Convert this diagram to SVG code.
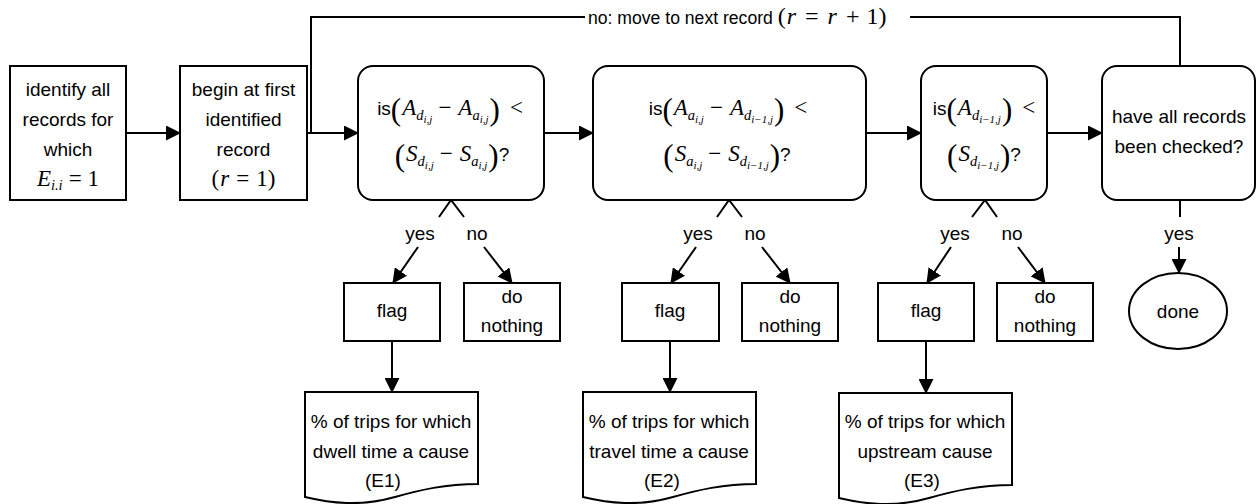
<svg xmlns="http://www.w3.org/2000/svg" width="1257" height="504" viewBox="0 0 1257 504">
<style>
.t{font-family:"Liberation Sans",Arial,sans-serif;font-size:19px;fill:#000}
.tl{font-size:17.6px}
.m{font-family:"Liberation Serif","Times New Roman",serif;font-size:23px;fill:#000}
.ml{font-family:"Liberation Serif","Times New Roman",serif;font-size:24px}
.i{font-style:italic}
.sub{font-size:14.5px}
.ss{font-size:11px}
.bp{font-size:31px;font-style:normal}
.box{fill:#fff;stroke:#000;stroke-width:2}
.ln{fill:none;stroke:#000;stroke-width:2}
.arr{fill:none;stroke:#000;stroke-width:2;marker-end:url(#ah)}
</style>
<defs>
<marker id="ah" markerUnits="userSpaceOnUse" markerWidth="15" markerHeight="15" refX="14" refY="7.5" orient="auto"><path d="M0,0 L15,7.5 L0,15 z" fill="#000"/></marker>
</defs>
<rect width="1257" height="504" fill="#fff"/>
<g id="connectors">
<line class="arr" x1="126" y1="133" x2="180" y2="133"/>
<line class="arr" x1="307" y1="133" x2="358" y2="133"/>
<line class="arr" x1="544" y1="133" x2="593" y2="133"/>
<line class="arr" x1="866" y1="133" x2="921" y2="133"/>
<line class="arr" x1="1047" y1="133" x2="1102" y2="133"/>
<polyline class="ln" points="311,133 311,17 585,17"/>
<polyline class="ln" points="910,17 1180,17 1180,66"/>
<text class="t tl" x="588" y="24">no: move to next record <tspan class="ml">(</tspan><tspan class="ml i" dx="1">r</tspan><tspan class="ml" dx="9">=</tspan><tspan class="ml i" dx="9">r</tspan><tspan class="ml" dx="9">+</tspan><tspan class="ml" dx="7">1</tspan><tspan class="ml">)</tspan></text>
<polyline class="ln" points="439,217 451,200 464,217"/>
<polyline class="ln" points="717,217 729,200 742,217"/>
<polyline class="ln" points="972,217 985,200 997,217"/>
<line class="ln" x1="1180" y1="200" x2="1180" y2="217"/>
<text class="t" x="420" y="240" text-anchor="middle">yes</text>
<text class="t" x="477" y="240" text-anchor="middle">no</text>
<text class="t" x="698" y="240" text-anchor="middle">yes</text>
<text class="t" x="755" y="240" text-anchor="middle">no</text>
<text class="t" x="955" y="240" text-anchor="middle">yes</text>
<text class="t" x="1012" y="240" text-anchor="middle">no</text>
<text class="t" x="1179" y="240" text-anchor="middle">yes</text>
<line class="arr" x1="418" y1="247" x2="393" y2="283"/>
<line class="arr" x1="484" y1="247" x2="512" y2="283"/>
<line class="arr" x1="696" y1="247" x2="671" y2="283"/>
<line class="arr" x1="762" y1="247" x2="790" y2="283"/>
<line class="arr" x1="951" y1="247" x2="927" y2="283"/>
<line class="arr" x1="1018" y1="247" x2="1045" y2="283"/>
<line class="arr" x1="1179" y1="247" x2="1179" y2="273"/>
<line class="arr" x1="392" y1="342" x2="392" y2="392"/>
<line class="arr" x1="670" y1="341" x2="670" y2="392"/>
<line class="arr" x1="926" y1="341" x2="926" y2="393"/>
</g>
<g id="n1">
<rect class="box" x="10" y="66" width="116" height="134"/>
<text class="t" x="68" y="96" text-anchor="middle">identify all</text>
<text class="t" x="68" y="126" text-anchor="middle">records for</text>
<text class="t" x="68" y="156" text-anchor="middle">which</text>
<text class="m" x="68" y="186" text-anchor="middle"><tspan class="i">E</tspan><tspan class="i sub" dy="4">i.i</tspan><tspan dy="-4" dx="6">=</tspan><tspan dx="6">1</tspan></text>
</g>
<g id="n2">
<rect class="box" x="180" y="66" width="127" height="134"/>
<text class="t" x="243.5" y="96" text-anchor="middle">begin at first</text>
<text class="t" x="243.5" y="126" text-anchor="middle">identified</text>
<text class="t" x="243.5" y="156" text-anchor="middle">record</text>
<text class="m" x="243.5" y="186" text-anchor="middle">(<tspan class="i" dx="1">r</tspan><tspan dx="7">=</tspan><tspan dx="7">1</tspan>)</text>
</g>
<g id="n3">
<rect class="box" x="358" y="66" width="186" height="134" rx="15"/>
<text class="m" x="450" y="115" text-anchor="middle"><tspan class="t">is</tspan><tspan class="bp" dy="5">(</tspan><tspan class="i" dy="-5" dx="1">A</tspan><tspan class="i sub" dy="5">d</tspan><tspan class="i ss" dy="3">i,j</tspan><tspan dy="-8" dx="6">−</tspan><tspan class="i" dx="7">A</tspan><tspan class="i sub" dy="5">a</tspan><tspan class="i ss" dy="3">i,j</tspan><tspan class="bp" dy="-3" dx="1">)</tspan><tspan dy="-5" dx="10">&lt;</tspan></text>
<text class="m" x="452" y="161" text-anchor="middle"><tspan class="bp" dy="5">(</tspan><tspan class="i" dy="-5" dx="1">S</tspan><tspan class="i sub" dy="5">d</tspan><tspan class="i ss" dy="3">i,j</tspan><tspan dy="-8" dx="6">−</tspan><tspan class="i" dx="7">S</tspan><tspan class="i sub" dy="5">a</tspan><tspan class="i ss" dy="3">i,j</tspan><tspan class="bp" dy="-3" dx="1">)</tspan><tspan class="t" dy="-5">?</tspan></text>
</g>
<g id="n4">
<rect class="box" x="593" y="66" width="273" height="134" rx="15"/>
<text class="m" x="728" y="115" text-anchor="middle"><tspan class="t">is</tspan><tspan class="bp" dy="5">(</tspan><tspan class="i" dy="-5" dx="1">A</tspan><tspan class="i sub" dy="5">a</tspan><tspan class="i ss" dy="3">i,j</tspan><tspan dy="-8" dx="6">−</tspan><tspan class="i" dx="7">A</tspan><tspan class="i sub" dy="5">d</tspan><tspan class="i ss" dy="3">i−1,j</tspan><tspan class="bp" dy="-3" dx="1">)</tspan><tspan dy="-5" dx="10">&lt;</tspan></text>
<text class="m" x="727" y="161" text-anchor="middle"><tspan class="bp" dy="5">(</tspan><tspan class="i" dy="-5" dx="1">S</tspan><tspan class="i sub" dy="5">a</tspan><tspan class="i ss" dy="3">i,j</tspan><tspan dy="-8" dx="6">−</tspan><tspan class="i" dx="7">S</tspan><tspan class="i sub" dy="5">d</tspan><tspan class="i ss" dy="3">i−1,j</tspan><tspan class="bp" dy="-3" dx="1">)</tspan><tspan class="t" dy="-5">?</tspan></text>
</g>
<g id="n5">
<rect class="box" x="921" y="66" width="126" height="134" rx="15"/>
<text class="m" x="984" y="115" text-anchor="middle"><tspan class="t">is</tspan><tspan class="bp" dy="5">(</tspan><tspan class="i" dy="-5" dx="1">A</tspan><tspan class="i sub" dy="5">d</tspan><tspan class="i ss" dy="3">i−1,j</tspan><tspan class="bp" dy="-3" dx="1">)</tspan><tspan dy="-5" dx="10">&lt;</tspan></text>
<text class="m" x="984" y="161" text-anchor="middle"><tspan class="bp" dy="5">(</tspan><tspan class="i" dy="-5" dx="1">S</tspan><tspan class="i sub" dy="5">d</tspan><tspan class="i ss" dy="3">i−1,j</tspan><tspan class="bp" dy="-3" dx="1">)</tspan><tspan class="t" dy="-5">?</tspan></text>
</g>
<g id="n6">
<rect class="box" x="1102" y="66" width="153" height="134" rx="15"/>
<text class="t" x="1179" y="123" text-anchor="middle">have all records</text>
<text class="t" x="1179" y="153" text-anchor="middle">been checked?</text>
</g>
<g id="flag1">
<rect class="box" x="344" y="283" width="96" height="58"/>
<text class="t" x="392" y="317" text-anchor="middle">flag</text>
</g>
<g id="nothing1">
<rect class="box" x="464" y="283" width="96" height="58"/>
<text class="t" x="512" y="303" text-anchor="middle">do</text>
<text class="t" x="512" y="332" text-anchor="middle">nothing</text>
</g>
<g id="flag2">
<rect class="box" x="622" y="283" width="97" height="58"/>
<text class="t" x="670" y="317" text-anchor="middle">flag</text>
</g>
<g id="nothing2">
<rect class="box" x="742" y="283" width="96" height="58"/>
<text class="t" x="790" y="303" text-anchor="middle">do</text>
<text class="t" x="790" y="332" text-anchor="middle">nothing</text>
</g>
<g id="flag3">
<rect class="box" x="878" y="283" width="96" height="58"/>
<text class="t" x="926" y="317" text-anchor="middle">flag</text>
</g>
<g id="nothing3">
<rect class="box" x="997" y="283" width="96" height="58"/>
<text class="t" x="1045" y="303" text-anchor="middle">do</text>
<text class="t" x="1045" y="332" text-anchor="middle">nothing</text>
</g>
<g id="done">
<ellipse class="box" cx="1178" cy="311" rx="49" ry="38"/>
<text class="t" x="1178" y="318" text-anchor="middle">done</text>
</g>
<g id="doc1">
<path class="box" d="M305,392 H478 V484 C445,484 420,490 395,497 C360,507 330,503 305,497 Z"/>
<text class="t" x="391" y="428" text-anchor="middle">% of trips for which</text>
<text class="t" x="391" y="458" text-anchor="middle">dwell time a cause</text>
<text class="t" x="383" y="487" text-anchor="middle">(E1)</text>
</g>
<g id="doc2">
<path class="box" d="M583,392 H756 V484 C723,484 698,490 673,497 C638,507 608,503 583,497 Z"/>
<text class="t" x="669" y="428" text-anchor="middle">% of trips for which</text>
<text class="t" x="669" y="458" text-anchor="middle">travel time a cause</text>
<text class="t" x="662" y="487" text-anchor="middle">(E2)</text>
</g>
<g id="doc3">
<path class="box" d="M839,393 H1012 V485 C979,485 954,491 929,498 C894,508 864,504 839,498 Z"/>
<text class="t" x="925" y="428" text-anchor="middle">% of trips for which</text>
<text class="t" x="925" y="458" text-anchor="middle">upstream cause</text>
<text class="t" x="922" y="487" text-anchor="middle">(E3)</text>
</g>
</svg>
